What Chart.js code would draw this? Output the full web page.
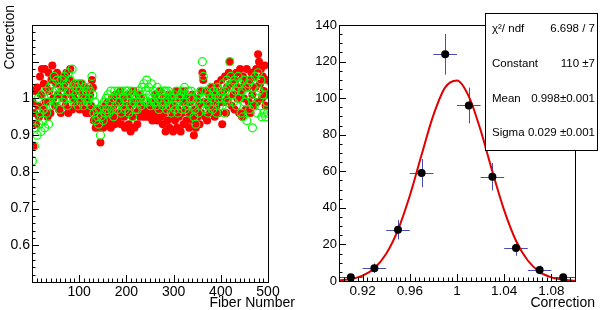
<!DOCTYPE html>
<html>
<head>
<meta charset="utf-8">
<script src="https://cdn.jsdelivr.net/npm/chart.js@4.4.0/dist/chart.umd.min.js"></script>
<style>
  body { margin: 0; background: #fff; }
  .pad { position: absolute; top: 0; width: 300px; height: 310px; }
</style>
</head>
<body>
<div class="pad" style="left:0"><canvas id="left" width="300" height="310"></canvas></div>
<div class="pad" style="left:300px"><canvas id="right" width="300" height="310"></canvas></div>

<script>
// ---- left pad: correction vs fiber (every 2nd fiber) ----
const fiberStart = 1, fiberStep = 2;
const redVals = [
  0.99,0.87,0.96,1.02,0.93,1.03,0.98,0.95,1.06,1.01,
  1.08,0.97,1.04,1.08,0.99,1.03,0.95,1.07,1.02,0.96,
  1.05,1.09,1.00,1.06,0.98,1.04,1.07,1.01,0.97,1.05,
  0.96,1.03,1.06,1.00,1.04,0.98,1.07,1.02,0.96,1.05,
  1.08,1.01,0.97,1.04,1.00,1.03,0.98,1.02,1.04,0.99,
  0.97,1.02,1.04,0.99,1.01,0.97,1.03,0.96,1.00,1.02,
  0.96,1.01,0.98,1.05,1.03,0.94,0.97,0.92,0.95,0.93,
  0.96,0.92,0.88,0.94,0.97,0.92,0.95,0.98,0.93,0.96,
  0.99,0.94,0.97,0.92,1.00,0.95,0.98,0.93,1.01,0.96,
  0.94,0.99,0.96,1.02,0.93,0.97,1.00,0.95,0.92,0.98,
  0.96,1.01,0.93,0.97,0.91,0.99,0.95,1.02,0.92,0.96,
  0.99,0.93,1.01,0.97,0.95,1.00,0.96,0.98,0.95,0.97,
  0.96,0.95,0.97,0.96,0.95,0.99,0.96,0.94,0.97,0.95,
  1.01,0.96,0.94,0.99,0.97,1.02,0.95,0.98,0.93,1.00,
  0.96,0.91,0.99,0.94,1.01,0.92,0.97,1.00,0.95,0.91,
  0.98,0.94,1.02,0.92,0.97,0.95,1.00,0.91,0.96,0.99,
  0.93,1.02,0.97,0.94,1.00,0.96,0.92,0.99,0.95,1.01,
  0.94,0.90,0.97,0.92,1.00,0.95,0.98,0.93,1.02,0.96,
  1.07,1.05,0.99,0.95,1.02,0.94,0.98,1.01,0.96,0.99,
  1.03,0.97,1.00,0.95,1.02,0.98,1.04,0.96,1.01,0.99,
  1.05,0.93,1.02,0.99,1.06,0.96,1.03,1.00,1.07,1.10,
  1.04,0.98,1.06,1.01,0.97,1.05,1.07,1.00,1.03,0.96,
  1.08,1.02,0.95,1.06,1.00,1.04,0.97,1.08,1.03,0.99,
  1.05,0.96,1.07,1.01,0.98,1.06,1.03,1.08,0.99,1.12,
  1.10,1.04,1.08,1.00,1.06,1.02,1.09,0.98,1.05,1.01
];
const greenVals = [
  0.83,0.95,0.87,0.92,0.97,0.90,1.00,0.93,0.96,0.91,
  1.01,0.94,0.97,0.92,1.02,0.96,0.99,0.93,1.03,0.98,
  1.01,1.04,0.98,1.06,1.02,0.99,1.05,1.00,1.03,0.97,
  1.02,1.05,0.99,1.03,1.06,1.00,1.04,0.98,1.07,1.02,
  1.05,1.00,1.08,1.02,0.99,1.04,1.01,1.03,0.98,1.04,
  1.02,0.99,1.04,1.01,0.98,1.03,1.00,1.02,0.99,1.03,
  1.00,1.02,0.98,1.06,1.01,0.96,0.99,0.94,0.97,0.95,
  0.93,0.97,0.90,0.95,0.98,0.94,0.99,0.96,1.00,0.97,
  1.01,0.96,0.99,1.02,0.97,1.00,0.95,1.02,0.98,1.01,
  0.97,1.02,0.99,1.01,0.96,1.02,0.98,1.00,0.97,1.02,
  0.99,1.02,0.96,1.01,0.98,1.02,0.95,0.99,1.01,0.97,
  1.00,0.97,1.02,0.99,1.01,0.98,1.03,1.00,1.04,0.99,
  1.02,1.05,0.99,1.03,1.01,0.98,1.04,1.00,1.02,0.99,
  1.01,0.98,1.03,1.00,0.97,1.02,0.99,1.01,0.98,1.02,
  0.99,1.02,0.97,1.00,1.02,0.98,1.01,0.96,1.00,0.98,
  1.01,0.97,0.99,1.02,0.96,1.00,0.98,1.01,0.97,1.02,
  0.99,1.03,0.97,1.01,0.98,1.02,0.96,1.00,1.02,0.98,
  1.00,0.95,0.97,0.93,0.99,1.01,0.96,1.00,0.98,1.02,
  1.10,1.06,1.00,0.97,1.02,0.99,0.96,1.01,0.98,1.03,
  1.00,0.97,1.02,0.99,1.01,0.96,1.03,1.00,0.98,1.02,
  1.01,0.98,1.04,0.96,1.02,1.00,1.05,0.99,1.03,1.10,
  1.06,1.01,1.04,0.99,1.05,1.02,0.98,1.03,1.06,1.00,
  1.04,0.96,1.02,0.95,1.05,0.99,1.03,0.94,1.01,1.04,
  0.97,1.05,1.00,0.92,1.03,0.98,1.06,1.01,0.96,1.07,
  1.02,0.98,1.05,0.95,1.01,0.96,1.03,0.95,0.99,0.96
];
const leftXTicks = [100, 200, 300, 400, 500];
const leftYTicks = [0.6, 0.7, 0.8, 0.9, 1];

// ---- right pad: histogram of corrections + gaussian fit ----
const binCenters = [0.91, 0.93, 0.95, 0.97, 0.99, 1.01, 1.03, 1.05, 1.07, 1.09];
const binCounts  = [2, 7, 28, 59, 124, 96, 57, 18, 6, 2];
const binErrors  = [1.4, 2.6, 5.3, 7.7, 11.1, 9.8, 7.5, 4.2, 2.4, 1.4];
const binWidth = 0.02;
const fitX = [0.90,0.91,0.92,0.93,0.94,0.95,0.96,0.97,0.98,0.99,1.00,
              1.01,1.02,1.03,1.04,1.05,1.06,1.07,1.08,1.09,1.10];
const fitY = [0.4,1.1,2.9,7.0,14.9,28,46.6,69,90.7,105.9,109.7,
              101,82.5,59.8,38.6,22,11.2,5.0,2.0,0.7,0.2];
const rightXTicks = [0.92, 0.96, 1, 1.04, 1.08];
const rightYTicks = [0, 20, 40, 60, 80, 100, 120, 140];
const statsRows = [
  ['\u03c7\u00b2/ ndf', '6.698 / 7'],
  ['Constant', '110 \u00b17'],
  ['Mean', '0.998\u00b10.001'],
  ['Sigma', '0.029 \u00b10.001']
];

Chart.defaults.font.family = '"Liberation Sans", Arial, sans-serif';
Chart.defaults.color = '#000';

const fmt = v => String(Number(v.toFixed(3)));

// ROOT-like frame with ticks pointing inwards, plus axis titles
function rootFrame(cfg) {
  return {
    id: 'rootFrame',
    afterDatasetsDraw(chart) {
      const { ctx, chartArea: a, scales: { x, y } } = chart;
      ctx.save();
      ctx.strokeStyle = '#000';
      ctx.lineWidth = 1;
      ctx.strokeRect(a.left + 0.5, a.top + 0.5, a.right - a.left, a.bottom - a.top);
      ctx.beginPath();
      for (let i = 0; ; i++) {
        const v = x.min + i * cfg.xMinor;
        if (v > x.max + 1e-9) break;
        const major = Math.abs(v / cfg.xMajor - Math.round(v / cfg.xMajor)) < 1e-6;
        const px = Math.round(x.getPixelForValue(v)) + 0.5;
        ctx.moveTo(px, a.bottom);
        ctx.lineTo(px, a.bottom - (major ? 7 : 3.5));
      }
      for (let i = 0; ; i++) {
        const v = y.min + i * cfg.yMinor;
        if (v > y.max + 1e-9) break;
        const major = Math.abs(v / cfg.yMajor - Math.round(v / cfg.yMajor)) < 1e-6;
        const py = Math.round(y.getPixelForValue(v)) + 0.5;
        ctx.moveTo(a.left, py);
        ctx.lineTo(a.left + (major ? 7 : 3.5), py);
      }
      ctx.stroke();

      ctx.fillStyle = '#000';
      ctx.font = '14px "Liberation Sans", Arial, sans-serif';
      ctx.textAlign = 'right';
      ctx.textBaseline = 'alphabetic';
      ctx.fillText(cfg.xTitle, cfg.xTitleRight, 307);
      if (cfg.yTitle) {
        ctx.translate(14, 5);
        ctx.rotate(-Math.PI / 2);
        ctx.fillText(cfg.yTitle, 0, 0);
      }
      ctx.restore();
    }
  };
}

function fixedTicks(list) {
  return scale => { scale.ticks = list.map(v => ({ value: v })); };
}

const baseOpts = {
  responsive: false,
  animation: false,
  events: [],
  plugins: { legend: { display: false }, tooltip: { enabled: false } }
};

// left chart
new Chart(document.getElementById('left'), {
  type: 'scatter',
  data: {
    datasets: [
      {
        label: 'red',
        data: redVals.map((v, i) => ({ x: fiberStart + i * fiberStep, y: v })),
        backgroundColor: '#ff0000',
        borderColor: '#ff0000',
        borderWidth: 0,
        pointRadius: 4,
        order: 2
      },
      {
        label: 'green',
        data: greenVals.map((v, i) => ({ x: fiberStart + i * fiberStep, y: v })),
        backgroundColor: 'rgba(0,0,0,0)',
        borderColor: '#00ff00',
        borderWidth: 1.2,
        pointRadius: 4,
        order: 1
      }
    ]
  },
  options: {
    ...baseOpts,
    layout: { padding: { left: 0, top: 25, right: 32, bottom: 0 } },
    scales: {
      x: {
        type: 'linear', min: 0, max: 500,
        grid: { display: false, drawTicks: false },
        border: { display: false },
        afterBuildTicks: fixedTicks(leftXTicks),
        afterFit: s => { s.height = 28; },
        ticks: { padding: 2, font: { size: 14 }, callback: fmt, maxRotation: 0, autoSkip: false }
      },
      y: {
        min: 0.5, max: 1.2,
        grid: { display: false, drawTicks: false },
        border: { display: false },
        afterBuildTicks: fixedTicks(leftYTicks),
        afterFit: s => { s.width = 32; },
        ticks: { padding: 2, font: { size: 14 }, callback: fmt, autoSkip: false }
      }
    }
  },
  plugins: [rootFrame({ xMajor: 100, xMinor: 10, yMajor: 0.1, yMinor: 0.02,
                        xTitle: 'Fiber Number', xTitleRight: 295, yTitle: 'Correction' })]
});

// error bars drawn from the histogram arrays through the scales
const errorBars = {
  id: 'errorBars',
  beforeDatasetsDraw(chart) {
    const { ctx, scales: { x, y } } = chart;
    ctx.save();
    ctx.strokeStyle = '#4b4bb4';
    ctx.lineWidth = 1;
    ctx.beginPath();
    binCenters.forEach((c, i) => {
      const py = Math.round(y.getPixelForValue(binCounts[i])) + 0.5;
      const px = Math.round(x.getPixelForValue(c)) + 0.5;
      ctx.moveTo(x.getPixelForValue(c - binWidth / 2), py);
      ctx.lineTo(x.getPixelForValue(c + binWidth / 2), py);
      ctx.moveTo(px, y.getPixelForValue(binCounts[i] - binErrors[i]));
      ctx.lineTo(px, y.getPixelForValue(binCounts[i] + binErrors[i]));
    });
    ctx.stroke();
    ctx.restore();
  }
};

const statsBox = {
  id: 'statsBox',
  afterDraw(chart) {
    const ctx = chart.ctx;
    ctx.save();
    ctx.fillStyle = '#fff';
    ctx.fillRect(185.5, 13.5, 112, 137);
    ctx.strokeStyle = '#000';
    ctx.lineWidth = 1;
    ctx.strokeRect(185.5, 13.5, 112, 137);
    ctx.fillStyle = '#000';
    ctx.font = '11.5px "Liberation Sans", Arial, sans-serif';
    ctx.textBaseline = 'middle';
    statsRows.forEach((r, i) => {
      const yy = 29 + i * 34.7;
      ctx.textAlign = 'left';
      ctx.fillText(r[0], 192, yy);
      ctx.textAlign = 'right';
      ctx.fillText(r[1], 295, yy);
    });
    ctx.restore();
  }
};

// right chart
new Chart(document.getElementById('right'), {
  type: 'scatter',
  data: {
    datasets: [
      {
        label: 'hist',
        data: binCenters.map((c, i) => ({ x: c, y: binCounts[i] })),
        backgroundColor: '#000',
        borderColor: '#000',
        borderWidth: 0,
        pointRadius: 4,
        order: 1
      },
      {
        label: 'gaus',
        data: fitX.map((v, i) => ({ x: v, y: fitY[i] })),
        showLine: true,
        borderColor: '#e00000',
        borderWidth: 2,
        pointRadius: 0,
        cubicInterpolationMode: 'monotone',
        order: 2
      }
    ]
  },
  options: {
    ...baseOpts,
    layout: { padding: { left: 0, top: 25, right: 25, bottom: 0 } },
    scales: {
      x: {
        type: 'linear', min: 0.9, max: 1.1,
        grid: { display: false, drawTicks: false },
        border: { display: false },
        afterBuildTicks: fixedTicks(rightXTicks),
        afterFit: s => { s.height = 29; },
        ticks: { padding: 2, font: { size: 13.5 }, callback: fmt, maxRotation: 0, autoSkip: false }
      },
      y: {
        min: 0, max: 140,
        grid: { display: false, drawTicks: false },
        border: { display: false },
        afterBuildTicks: fixedTicks(rightYTicks),
        afterFit: s => { s.width = 39; },
        ticks: { padding: 2, font: { size: 13 }, callback: fmt, autoSkip: false }
      }
    }
  },
  plugins: [errorBars,
            rootFrame({ xMajor: 0.04, xMinor: 0.004, yMajor: 20, yMinor: 5,
                        xTitle: 'Correction', xTitleRight: 295 }),
            statsBox]
});
</script>
</body>
</html>
